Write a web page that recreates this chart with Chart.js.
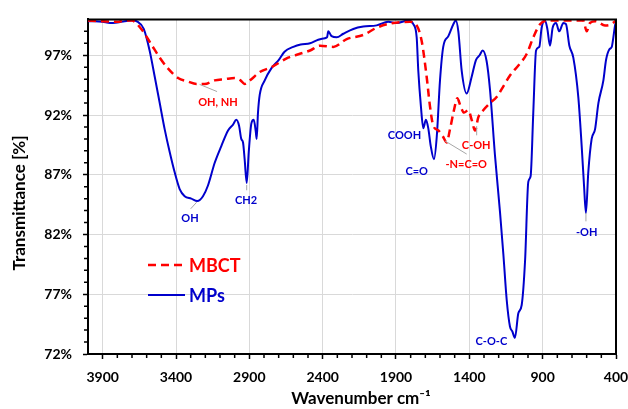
<!DOCTYPE html>
<html>
<head>
<meta charset="utf-8">
<script src="https://cdn.jsdelivr.net/npm/chart.js@4.4.1/dist/chart.umd.min.js"></script>
<style>
  html, body { margin: 0; padding: 0; background: #fff; }
  #wrap { width: 628px; height: 409px; }
</style>
</head>
<body>
<div id="wrap"><canvas id="ftir" width="628" height="409"></canvas></div>
<script>
// MBCT spectrum (wavenumber cm-1, transmittance %)
const mbctWavenumber = [
  4000, 3900, 3800, 3750, 3700, 3682, 3625, 3568, 3511, 3455, 3386, 3318, 3261, 3205,
  3136, 3068, 3000, 2960, 2932, 2886, 2829, 2750, 2636, 2560, 2486, 2418, 2327, 2236,
  2123, 2032, 1941, 1805, 1759, 1725, 1691, 1668, 1646, 1611, 1580, 1555, 1532, 1505,
  1482, 1459, 1436, 1407, 1384, 1361, 1339, 1305, 1259, 1214, 1168, 1123, 1055, 1009,
  964, 918, 873, 759, 623, 600, 577, 540, 475, 441, 400
];
const mbctTransmittance = [
  99.9, 99.85, 99.8, 99.9, 99.9, 99.8, 99.0, 97.9, 96.8, 95.9, 95.1, 94.8, 94.6, 94.6,
  94.9, 95.0, 95.1, 94.9, 94.6, 95.0, 95.6, 96.0, 96.8, 97.1, 97.4, 97.8, 97.7, 98.35,
  98.7, 99.3, 99.65, 99.8, 99.5, 98.2, 95.2, 92.7, 91.1, 90.7, 90.2, 89.7, 90.8, 92.4,
  93.4, 92.7, 92.2, 92.4, 91.6, 90.7, 91.8, 92.4, 93.0, 93.5, 94.4, 95.3, 96.3, 97.1,
  98.5, 99.6, 99.9, 99.9, 99.9, 99.0, 99.7, 99.85, 99.5, 99.55, 99.9
];

// MPs spectrum
const mpsWavenumber = [
  4000, 3950, 3900, 3850, 3800, 3750, 3700, 3660, 3620, 3580, 3545, 3511, 3477, 3443,
  3409, 3375, 3341, 3296, 3255, 3216, 3182, 3136, 3091, 3045, 3011, 2989, 2970, 2955,
  2943, 2932, 2918, 2904, 2886, 2870, 2856, 2850, 2841, 2829, 2795, 2750, 2700, 2660,
  2600, 2550, 2486, 2430, 2396, 2370, 2362, 2350, 2339, 2304, 2259, 2191, 2123, 2032,
  1953, 1895, 1816, 1782, 1759, 1748, 1730, 1714, 1696, 1680, 1663, 1641, 1622, 1600,
  1578, 1543, 1509, 1493, 1475, 1452, 1418, 1384, 1355, 1330, 1309, 1282, 1259, 1225,
  1191, 1168, 1145, 1123, 1107, 1089, 1066, 1043, 1020, 998, 982, 964, 945, 923,
  907, 884, 868, 850, 832, 809, 787, 759, 741, 718, 691, 657, 634, 618,
  605, 589, 566, 543, 520, 486, 468, 445, 429, 418, 407, 400
];
const mpsTransmittance = [
  99.85, 99.85, 99.8, 99.7, 99.75, 99.85, 99.9, 99.8, 99.2, 97.4, 95.2, 93.0, 90.8, 88.9,
  87.2, 85.8, 85.2, 85.0, 84.8, 85.2, 86.1, 88.0, 89.4, 90.7, 91.2, 91.6, 91.1, 90.0,
  89.7, 88.3, 86.3, 88.9, 91.3, 91.6, 90.6, 90.0, 92.2, 93.7, 94.9, 95.9, 96.6, 97.3,
  97.7, 97.9, 98.0, 98.3, 98.4, 98.5, 99.0, 98.8, 98.6, 98.5, 98.8, 99.2, 99.4, 99.5,
  99.8, 99.7, 99.9, 99.6, 98.5, 95.7, 92.7, 90.9, 91.6, 90.9, 89.4, 88.3, 90.2, 94.9,
  97.7, 98.6, 99.6, 99.9, 99.0, 95.7, 93.8, 95.2, 96.6, 97.0, 97.4, 96.5, 94.1, 88.6,
  83.9, 80.35, 76.5, 74.3, 73.9, 73.35, 75.4, 76.1, 79.8, 86.4, 86.9, 92.2, 97.4, 97.7,
  99.3, 99.9, 99.2, 97.8, 99.3, 99.7, 99.0, 99.7, 99.6, 97.8, 96.8, 93.5, 89.4, 86.1,
  83.8, 87.2, 90.0, 90.8, 93.0, 94.9, 96.6, 97.5, 97.7, 98.5, 99.45, 99.8
];

const xTickValues = [400, 900, 1400, 1900, 2400, 2900, 3400, 3900];
const yTickValues = [72, 77, 82, 87, 92, 97];

const RED = "#ff0000";
const BLUE = "#0000cc";
const FONT = "Lato, 'Open Sans', sans-serif";

// peak labels, placed in data units
const peakLabels = [
  { text: "OH, NH", x: 3114, y: 93.07, color: RED },
  { text: "OH", x: 3305, y: 83.35, color: BLUE },
  { text: "CH2", x: 2923, y: 84.83, color: BLUE },
  { text: "COOH", x: 1842, y: 90.25, color: BLUE },
  { text: "C=O", x: 1759, y: 87.28, color: BLUE },
  { text: "-N=C=O", x: 1421, y: 87.86, color: RED },
  { text: "C-OH", x: 1353, y: 89.42, color: RED },
  { text: "C-O-C", x: 1250, y: 73.07, color: BLUE },
  { text: "-OH", x: 600, y: 82.14, color: BLUE }
];
const leaderLines = [
  [3239, 94.56, 3120, 93.96],
  [3300, 84.15, 3259, 84.7],
  [2918, 86.15, 2918, 85.7],
  [1566, 89.83, 1418, 88.73],
  [1350, 91.07, 1350, 90.3],
  [605, 83.8, 605, 83.1]
];

const toPoints = (xs, ys) => xs.map((x, i) => ({ x: x, y: ys[i] }));

const extras = {
  id: "ftirExtras",
  afterDraw(chart) {
    const ctx = chart.ctx;
    const { left, right, top, bottom } = chart.chartArea;
    const xs = chart.scales.x;
    const ys = chart.scales.y;
    ctx.save();

    // top and right frame
    ctx.strokeStyle = "#000";
    ctx.lineWidth = 2;
    ctx.beginPath();
    ctx.moveTo(left - 1, top);
    ctx.lineTo(right, top);
    ctx.lineTo(right, bottom + 1);
    ctx.stroke();

    // minor ticks
    ctx.lineWidth = 1.5;
    ctx.beginPath();
    for (let v = 500; v < 4000; v += 100) {
      if (xTickValues.includes(v)) continue;
      const px = xs.getPixelForValue(v);
      ctx.moveTo(px, bottom);
      ctx.lineTo(px, bottom + 4);
    }
    for (let v = 73; v < 100; v++) {
      if (yTickValues.includes(v)) continue;
      const py = ys.getPixelForValue(v);
      ctx.moveTo(left - 4, py);
      ctx.lineTo(left, py);
    }
    ctx.stroke();

    // leader lines
    ctx.strokeStyle = "#a6a6a6";
    ctx.lineWidth = 1;
    ctx.beginPath();
    leaderLines.forEach(l => {
      ctx.moveTo(xs.getPixelForValue(l[0]), ys.getPixelForValue(l[1]));
      ctx.lineTo(xs.getPixelForValue(l[2]), ys.getPixelForValue(l[3]));
    });
    ctx.stroke();

    // peak labels
    ctx.font = "bold 11px " + FONT;
    ctx.textAlign = "center";
    ctx.textBaseline = "middle";
    peakLabels.forEach(p => {
      ctx.fillStyle = p.color;
      ctx.fillText(p.text, xs.getPixelForValue(p.x), ys.getPixelForValue(p.y));
    });

    // legend inside plot
    ctx.textAlign = "left";
    ctx.font = "bold 18px " + FONT;
    chart.data.datasets.forEach((ds, i) => {
      const ly = 265 + i * 30;
      ctx.strokeStyle = ds.borderColor;
      ctx.lineWidth = ds.borderWidth;
      ctx.setLineDash(ds.borderDash || []);
      ctx.beginPath();
      ctx.moveTo(148, ly);
      ctx.lineTo(185, ly);
      ctx.stroke();
      ctx.setLineDash([]);
      ctx.fillStyle = ds.borderColor;
      ctx.fillText(ds.label, 189, ly + 1);
    });

    // axis titles
    ctx.fillStyle = "#000";
    ctx.font = "bold 17px " + FONT;
    ctx.textAlign = "center";
    ctx.fillText("Wavenumber cm\u207B\u00B9", 361, 399);
    ctx.translate(20, 203);
    ctx.rotate(-Math.PI / 2);
    ctx.fillText("Transmittance [%]", 0, 0);
    ctx.restore();
  }
};

new Chart(document.getElementById("ftir").getContext("2d"), {
  type: "line",
  data: {
    datasets: [
      {
        label: "MBCT",
        data: toPoints(mbctWavenumber, mbctTransmittance),
        borderColor: RED,
        borderWidth: 2.5,
        borderDash: [8, 5],
        pointRadius: 0,
        cubicInterpolationMode: "monotone",
        fill: false
      },
      {
        label: "MPs",
        data: toPoints(mpsWavenumber, mpsTransmittance),
        borderColor: BLUE,
        borderWidth: 2,
        pointRadius: 0,
        cubicInterpolationMode: "monotone",
        fill: false
      }
    ]
  },
  options: {
    responsive: false,
    animation: false,
    layout: { padding: { left: 0, top: 15, right: 12, bottom: 0 } },
    plugins: { legend: { display: false }, tooltip: { enabled: false } },
    scales: {
      x: {
        type: "linear",
        reverse: true,
        min: 400,
        max: 4000,
        afterBuildTicks: s => { s.ticks = xTickValues.map(v => ({ value: v })); },
        afterFit: s => { s.height = 55; },
        grid: { color: "#d9d9d9", lineWidth: 1, tickLength: 5, tickColor: "#000", tickWidth: 1.5 },
        border: { color: "#000", width: 2 },
        ticks: {
          font: { family: FONT, size: 14, weight: "bold" },
          color: "#000",
          padding: 10,
          maxRotation: 0,
          autoSkip: false,
          callback: v => String(v)
        }
      },
      y: {
        min: 72,
        max: 100,
        afterBuildTicks: s => { s.ticks = yTickValues.map(v => ({ value: v })); },
        afterFit: s => { s.width = 88; },
        grid: { color: "#d9d9d9", lineWidth: 1, tickLength: 5, tickColor: "#000", tickWidth: 1.5 },
        border: { color: "#000", width: 2 },
        ticks: {
          font: { family: FONT, size: 14, weight: "bold" },
          color: "#000",
          padding: 11,
          callback: v => v + "%"
        }
      }
    }
  },
  plugins: [extras]
});
</script>
</body>
</html>
